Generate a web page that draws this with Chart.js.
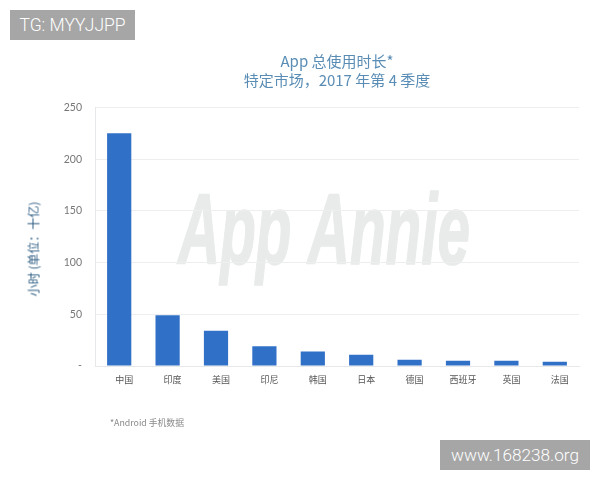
<!DOCTYPE html>
<html>
<head>
<meta charset="utf-8">
<style>
html, body { margin: 0; padding: 0; background: #fff; }
#wrap { position: relative; width: 600px; height: 480px; overflow: hidden; }
.badge { position: absolute; background: #a6a6a6; color: #fff; font-family: Roboto, sans-serif; font-weight: 300; text-align: center; height: 30px; line-height: 30px; }
#note { position: absolute; left: 110px; top: 416px; font: 8.8px "Noto Sans CJK SC", sans-serif; color: #8a8a8a; }
#ytitle { position: absolute; left: 33px; top: 249px; transform: translate(-50%, -50%) rotate(-90deg); white-space: nowrap; font: 12px "Noto Sans CJK SC", sans-serif; color: #2c5c82; }
</style>
</head>
<body>
<div id="wrap">
  <canvas id="chart" width="600" height="480"></canvas>
  <div class="badge" style="left:10px;top:10px;width:125px;font-size:17.5px">TG: MYYJJPP</div>
  <div class="badge" style="left:440px;top:440px;width:150px;font-size:17.2px">www.168238.org</div>
  <div id="note">*Android 手机数据</div>
  <div id="ytitle"></div>
</div>
<script src="https://cdn.jsdelivr.net/npm/chart.js@4"></script>
<script>
var categories = ['中国', '印度', '美国', '印尼', '韩国', '日本', '德国', '西班牙', '英国', '法国'];
var hours = [225, 49, 34, 19, 14, 11, 6, 5, 5, 4];
var tickLabels = ['-', '50', '100', '150', '200', '250'];
var titleLines = ['App 总使用时长*', '特定市场，2017 年第 4 季度'];
var yTitle = '小时 (单位：十亿)';
var cjk = '"Noto Sans CJK SC", sans-serif';

document.querySelector('#ytitle').textContent = yTitle;

// faint logo behind the grid
var logo = {
    id: 'logo',
    beforeDraw: function(chart) {
        var c = chart.ctx;
        c.save();
        c.fillStyle = '#e9ebeb';
        c.strokeStyle = '#e9ebeb';
        c.lineWidth = 1.5;
        c.lineJoin = 'round';
        c.font = 'italic bold 100px "Liberation Sans Narrow", sans-serif';
        c.textBaseline = 'alphabetic';
        var w = c.measureText('App Annie').width;
        c.translate(178, 264);
        c.scale(292 / w, 1);
        c.fillText('App Annie', 0, 0);
        c.strokeText('App Annie', 0, 0);
        c.restore();
    }
};

new Chart(document.querySelector('#chart').getContext('2d'), {
    type: 'bar',
    data: {
        labels: categories,
        datasets: [{
            data: hours,
            backgroundColor: '#3070c6',
            barPercentage: 0.5,
            categoryPercentage: 1
        }]
    },
    plugins: [logo],
    options: {
        responsive: false,
        animation: false,
        layout: { padding: { top: 52, right: 21, bottom: 0, left: 0 } },
        plugins: {
            legend: { display: false },
            tooltip: { enabled: false },
            title: {
                display: true,
                text: titleLines,
                fullSize: false,
                color: '#5a8db5',
                font: { family: cjk, size: 15, weight: 'normal', lineHeight: 1.25 },
                padding: { top: 0, bottom: 18 }
            }
        },
        scales: {
            x: {
                grid: { display: false, drawTicks: false },
                border: { color: '#e6e8ea' },
                afterFit: function(s) { s.height = 114; },
                ticks: {
                    color: '#555',
                    maxRotation: 0,
                    padding: 8,
                    labelOffset: 5,
                    font: { family: cjk, size: 9 }
                }
            },
            y: {
                min: 0,
                max: 250,
                grid: { color: '#eceef0', drawTicks: false },
                border: { color: '#e6e8ea' },
                afterFit: function(s) { s.width = 95; },
                ticks: {
                    stepSize: 50,
                    color: '#777',
                    padding: 13,
                    font: { family: '"Lato", sans-serif', size: 10.5 },
                    callback: function(value, i) { return tickLabels[i]; }
                }
            }
        }
    }
});
</script>
</body>
</html>
